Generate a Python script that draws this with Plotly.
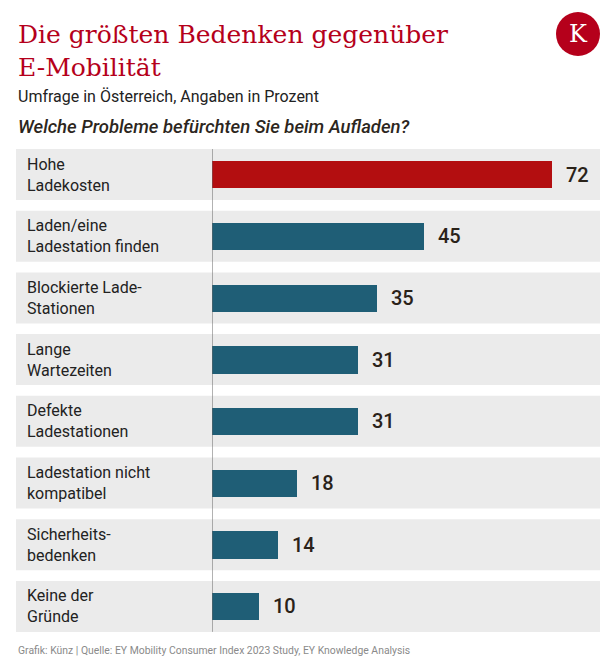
import plotly.graph_objects as go

categories = [
    "Hohe<br>Ladekosten",
    "Laden/eine<br>Ladestation finden",
    "Blockierte Lade-<br>Stationen",
    "Lange<br>Wartezeiten",
    "Defekte<br>Ladestationen",
    "Ladestation nicht<br>kompatibel",
    "Sicherheits-<br>bedenken",
    "Keine der<br>Gründe",
]
values = [72, 45, 35, 31, 31, 18, 14, 10]
colors = ["#b30e10"] + ["#1f5e76"] * 7

# page body has an 8px margin; figure sized to fill the rest of the window
OFF = 8
W, H = 616 - OFF, 668 - OFF


def px(x):
    return (x - OFF) / W


def py(y):
    return 1 - (y - OFF) / H


ids = list(range(len(categories)))

fig = go.Figure()
fig.add_trace(go.Bar(
    x=values, y=ids, orientation="h",
    marker=dict(color=colors, line=dict(width=0)),
    width=0.44, hoverinfo="skip",
))

shapes = []
half = 0.413
for i in ids:
    shapes.append(dict(type="rect", xref="paper", yref="y",
                       x0=px(16), x1=px(600), y0=i - half, y1=i + half,
                       fillcolor="#ebebeb", line=dict(width=0), layer="below"))
shapes.append(dict(type="line", xref="x", yref="y", x0=0, x1=0,
                   y0=-half, y1=ids[-1] + half,
                   line=dict(color="#666666", width=1), layer="above"))
# logo
shapes.append(dict(type="circle", xref="paper", yref="paper",
                   x0=px(556), x1=px(600), y0=py(56), y1=py(12),
                   fillcolor="#b5001b", line=dict(width=0)))

annotations = []
for i, (c, v) in enumerate(zip(categories, values)):
    annotations.append(dict(x=px(24.5), xref="paper", y=i, yref="y", text=c,
                            xanchor="left", yanchor="middle", align="left",
                            showarrow=False,
                            font=dict(family="Roboto", size=16, color="#222222")))
    annotations.append(dict(x=v, xref="x", y=i, yref="y", text=str(v),
                            xanchor="left", yanchor="middle", xshift=12,
                            showarrow=False,
                            font=dict(family="Roboto", size=20, color="#2a2219", weight=500)))

annotations += [
    dict(x=px(16), y=py(17.5), xref="paper", yref="paper", xanchor="left", yanchor="top",
         align="left", showarrow=False,
         text="Die größten Bedenken gegenüber<br>E-Mobilität",
         font=dict(family="DejaVu Serif", size=25, color="#b5001b")),
    dict(x=px(16), y=py(96.5), xref="paper", yref="paper", xanchor="left", yanchor="middle",
         showarrow=False, text="Umfrage in Österreich, Angaben in Prozent",
         font=dict(family="Roboto", size=16, color="#222222")),
    dict(x=px(16), y=py(127.5), xref="paper", yref="paper", xanchor="left", yanchor="middle",
         showarrow=False, text="Welche Probleme befürchten Sie beim Aufladen?",
         font=dict(family="Roboto", size=18.5, color="#2c2620", style="italic", weight=500)),
    dict(x=px(16), y=py(650), xref="paper", yref="paper", xanchor="left", yanchor="middle",
         showarrow=False,
         text="Grafik: Künz | Quelle: EY Mobility Consumer Index 2023 Study, EY Knowledge Analysis",
         font=dict(family="Roboto", size=10.4, color="#8a8a8a")),
    dict(x=px(578), y=py(34), xref="paper", yref="paper", xanchor="center", yanchor="middle",
         showarrow=False, text="K",
         font=dict(family="DejaVu Serif", size=24, color="#ffffff")),
]

row0_center = 174.5
pitch = 61.7
ytop = row0_center - pitch / 2
ybot = ytop + pitch * len(categories)

fig.update_layout(
    width=W, height=H,
    margin=dict(l=0, r=0, t=0, b=0),
    paper_bgcolor="#ffffff", plot_bgcolor="rgba(0,0,0,0)",
    showlegend=False,
    bargap=0,
    xaxis=dict(domain=[px(212), px(600)], range=[0, 388 / 4.72],
               visible=False, fixedrange=True),
    yaxis=dict(domain=[py(ybot), py(ytop)], range=[7.5, -0.5],
               visible=False, fixedrange=True),
    shapes=shapes,
    annotations=annotations,
)

fig.write_html("out.html", config={"displayModeBar": False})
